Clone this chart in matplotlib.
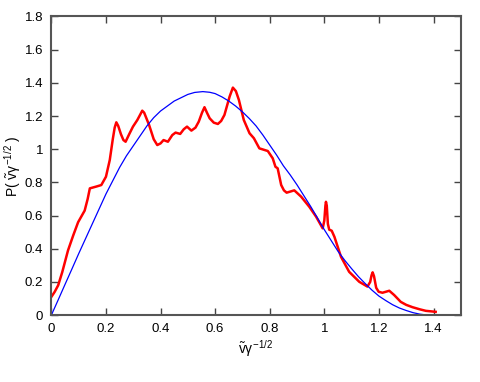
import matplotlib
matplotlib.use("Agg")
import matplotlib.pyplot as plt

plt.rcParams['font.family'] = ['Liberation Sans Narrow', 'Liberation Sans', 'DejaVu Sans']
plt.rcParams['mathtext.fontset'] = 'custom'
plt.rcParams['mathtext.rm'] = 'Liberation Sans'
plt.rcParams['mathtext.it'] = 'Liberation Sans'

# simulation histogram (red)
red_x = [0.0, 0.012, 0.025, 0.04, 0.061, 0.08, 0.098, 0.122, 0.133, 0.141, 0.165, 0.183,
         0.2, 0.214, 0.225, 0.232, 0.238, 0.245, 0.255, 0.264, 0.272, 0.285, 0.299,
         0.315, 0.326, 0.333, 0.34, 0.358, 0.375, 0.388, 0.4, 0.411, 0.427, 0.443,
         0.455, 0.472, 0.485, 0.497, 0.513, 0.528, 0.540, 0.552, 0.561, 0.570, 0.580,
         0.595, 0.61, 0.622, 0.634, 0.645, 0.653, 0.665, 0.676, 0.687, 0.705, 0.726,
         0.742, 0.762, 0.793, 0.811, 0.821, 0.829, 0.842, 0.852, 0.862, 0.876, 0.89,
         0.915, 0.945, 0.97, 0.994, 1.0, 1.004, 1.006, 1.009, 1.013, 1.018, 1.027,
         1.037, 1.061, 1.091, 1.128, 1.158, 1.168, 1.173, 1.177, 1.182, 1.19, 1.199,
         1.213, 1.238, 1.256, 1.28, 1.3, 1.323, 1.35, 1.372, 1.408]
red_y = [0.11, 0.14, 0.18, 0.26, 0.39, 0.48, 0.56, 0.63, 0.70, 0.764, 0.775, 0.784,
         0.834, 0.935, 1.06, 1.13, 1.162, 1.14, 1.09, 1.055, 1.045, 1.09, 1.136, 1.176,
         1.21, 1.232, 1.22, 1.146, 1.06, 1.025, 1.035, 1.055, 1.045, 1.085, 1.10,
         1.092, 1.12, 1.136, 1.112, 1.13, 1.166, 1.22, 1.253, 1.22, 1.186, 1.16, 1.152,
         1.17, 1.206, 1.27, 1.317, 1.371, 1.35, 1.297, 1.176, 1.096, 1.066, 1.005,
         0.989, 0.945, 0.894, 0.885, 0.784, 0.752, 0.738, 0.745, 0.752, 0.714, 0.653,
         0.593, 0.523, 0.57, 0.66, 0.683, 0.66, 0.55, 0.515, 0.509, 0.472, 0.352,
         0.261, 0.201, 0.172, 0.20, 0.24, 0.258, 0.235, 0.165, 0.141, 0.135, 0.147,
         0.121, 0.08, 0.062, 0.048, 0.035, 0.026, 0.02]

# theory curve (blue)
blue_x = [0.0, 0.025, 0.05, 0.075, 0.1, 0.125, 0.15, 0.175, 0.2, 0.225, 0.25, 0.275,
          0.3, 0.325, 0.35, 0.375, 0.4, 0.425, 0.45, 0.475, 0.5, 0.525, 0.555, 0.58,
          0.6, 0.625, 0.65, 0.675, 0.7, 0.725, 0.75, 0.775, 0.8, 0.825, 0.85, 0.875,
          0.9, 0.925, 0.95, 0.975, 1.0, 1.025, 1.05, 1.075, 1.1, 1.125, 1.15, 1.175,
          1.2, 1.225, 1.25, 1.275, 1.3, 1.325, 1.35, 1.375, 1.39]
blue_y = [0.0, 0.092, 0.185, 0.277, 0.37, 0.46, 0.55, 0.64, 0.73, 0.81, 0.89, 0.96,
          1.02, 1.08, 1.14, 1.19, 1.23, 1.26, 1.29, 1.31, 1.33, 1.342, 1.347, 1.343,
          1.335, 1.315, 1.29, 1.26, 1.225, 1.185, 1.14, 1.085, 1.025, 0.965, 0.90,
          0.845, 0.785, 0.72, 0.655, 0.585, 0.515, 0.45, 0.385, 0.33, 0.28, 0.232,
          0.19, 0.15, 0.115, 0.088, 0.063, 0.043, 0.028, 0.015, 0.006, 0.001, 0.0]

xticks = [0, 0.2, 0.4, 0.6, 0.8, 1, 1.2, 1.4]
xticklabels = ['0', '0.2', '0.4', '0.6', '0.8', '1', '1.2', '1.4']
yticks = [0, 0.2, 0.4, 0.6, 0.8, 1, 1.2, 1.4, 1.6, 1.8]
yticklabels = ['0', '0.2', '0.4', '0.6', '0.8', '1', '1.2', '1.4', '1.6', '1.8']

fig = plt.figure(figsize=(4.8, 3.82), dpi=100)
ax = fig.add_axes([0.107, 0.175, 0.853, 0.782])
ax.plot(red_x, red_y, c='#ff0000', lw=1.8, solid_joinstyle='round')
ax.plot(blue_x, blue_y, c='#0000ff', lw=0.9)

ax.set_xlim(0, 1.5)
ax.set_ylim(0, 1.8)
ax.set_xticks(xticks)
ax.set_xticklabels(xticklabels)
ax.set_yticks(yticks)
ax.set_yticklabels(yticklabels)
ax.tick_params(direction='in', top=True, right=True, length=5, width=1,
               color='#444444', labelsize=9.5, pad=6)
for s in ax.spines.values():
    s.set_color('#555555')
    s.set_linewidth(1.5)

ax.set_xlabel(r'$\tilde{v}\gamma^{-1/2}$', fontsize=10, labelpad=2)
ax.set_ylabel(r'P( $\tilde{v}\gamma^{-1/2}$ )', fontsize=10, labelpad=1)

plt.savefig("out.png")
